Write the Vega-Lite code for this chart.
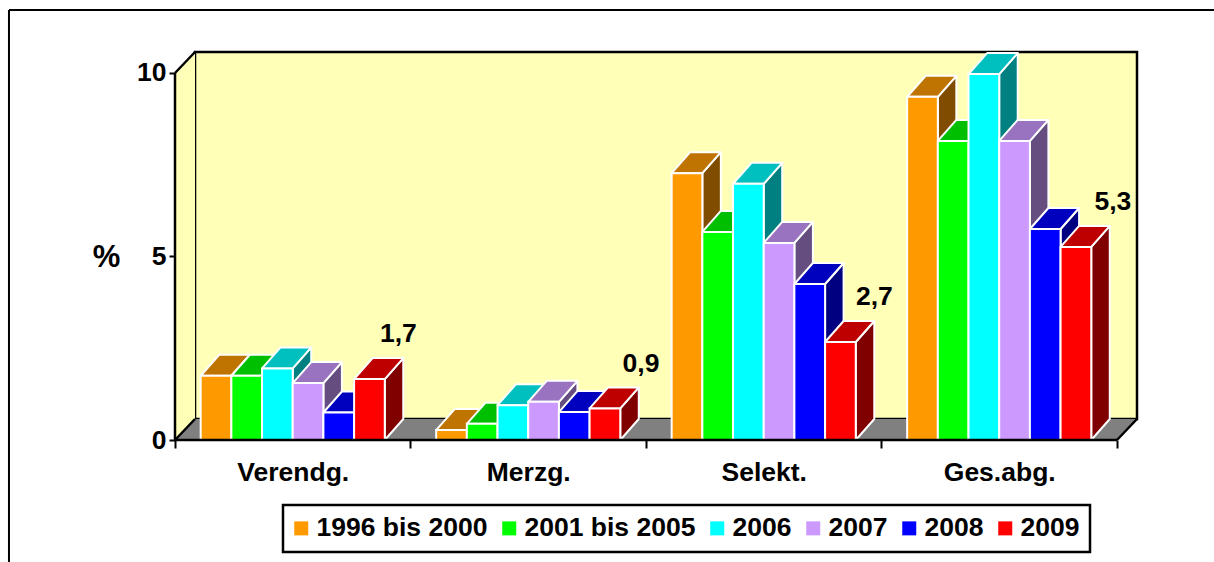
{"$schema":"https://vega.github.io/schema/vega-lite/v6.json","width":962,"height":388,"autosize":"none","padding":{"left":175,"top":52,"right":77,"bottom":122},"background":"white","config":{"view":{"stroke":null},"font":"Liberation Sans","legend":{"strokeWidth":2.5}},
"resolve":{"scale":{"fill":"independent"}},
"datasets":{"bars":[
{"category":"Verendg.","series":"1996 bis 2000","value":1.75},{"category":"Verendg.","series":"2001 bis 2005","value":1.75},{"category":"Verendg.","series":"2006","value":1.95},{"category":"Verendg.","series":"2007","value":1.55},{"category":"Verendg.","series":"2008","value":0.75},{"category":"Verendg.","series":"2009","value":1.66},
{"category":"Merzg.","series":"1996 bis 2000","value":0.27},{"category":"Merzg.","series":"2001 bis 2005","value":0.44},{"category":"Merzg.","series":"2006","value":0.95},{"category":"Merzg.","series":"2007","value":1.04},{"category":"Merzg.","series":"2008","value":0.76},{"category":"Merzg.","series":"2009","value":0.86},
{"category":"Selekt.","series":"1996 bis 2000","value":7.27},{"category":"Selekt.","series":"2001 bis 2005","value":5.67},{"category":"Selekt.","series":"2006","value":6.98},{"category":"Selekt.","series":"2007","value":5.37},{"category":"Selekt.","series":"2008","value":4.25},{"category":"Selekt.","series":"2009","value":2.67},
{"category":"Ges.abg.","series":"1996 bis 2000","value":9.35},{"category":"Ges.abg.","series":"2001 bis 2005","value":8.15},{"category":"Ges.abg.","series":"2006","value":9.97},{"category":"Ges.abg.","series":"2007","value":8.15},{"category":"Ges.abg.","series":"2008","value":5.75},{"category":"Ges.abg.","series":"2009","value":5.26}
],"one":[{"k":1}],"ends":[{"t":0},{"t":1}]},
"data":{"name":"bars"},
"transform":[
{"calculate":"indexof(['Verendg.','Merzg.','Selekt.','Ges.abg.'],datum.category)","as":"ci"},
{"calculate":"indexof(['1996 bis 2000','2001 bis 2005','2006','2007','2008','2009'],datum.series)","as":"si"},
{"calculate":"datum.ci+0.109+datum.si*0.1303","as":"l"},
{"calculate":"datum.l+0.1303","as":"r"},
{"calculate":"[0,1]","as":"tt"},
{"flatten":["tt"],"as":["t"]}
],
"layer":[
{"data":{"name":"one"},"transform":[],"mark":{"type":"rect","fill":"#FFFFB8","stroke":"black","strokeWidth":2.5},"encoding":{"x":{"datum":0.085,"type":"quantitative","scale":{"domain":[0,4.085]}},"x2":{"datum":4.085},"y":{"datum":0.572,"type":"quantitative","scale":{"domain":[0,10.572]}},"y2":{"datum":10.572}}},
{"data":{"name":"ends"},"transform":[{"calculate":"datum.t*0.085","as":"x"},{"calculate":"datum.t*0.572","as":"y0"},{"calculate":"10+datum.t*0.572","as":"y1"}],"mark":{"type":"area","orient":"vertical","fill":"#FFFFB8"},"encoding":{"x":{"field":"x","type":"quantitative","scale":{"domain":[0,4.085]}},"y":{"field":"y1","type":"quantitative","stack":null,"scale":{"domain":[0,10.572]}},"y2":{"field":"y0"}}},
{"data":{"name":"ends"},"transform":[{"calculate":"datum.t*0.085","as":"x0"},{"calculate":"4+datum.t*0.085","as":"x1"},{"calculate":"datum.t*0.572","as":"y"}],"mark":{"type":"area","orient":"horizontal","fill":"#808080"},"encoding":{"y":{"field":"y","type":"quantitative","scale":{"domain":[0,10.572]}},"x":{"field":"x1","type":"quantitative","stack":null,"scale":{"domain":[0,4.085]}},"x2":{"field":"x0"}}},
{"data":{"name":"one"},"transform":[],"mark":{"type":"rule","stroke":"black","strokeWidth":2.5},"encoding":{"x":{"datum":0,"type":"quantitative","scale":{"domain":[0,4.085]}},"y":{"datum":0,"type":"quantitative","scale":{"domain":[0,10.572]}},"x2":{"datum":0},"y2":{"datum":10}}},
{"data":{"name":"one"},"transform":[],"mark":{"type":"rule","stroke":"black","strokeWidth":2.5},"encoding":{"x":{"datum":0,"type":"quantitative","scale":{"domain":[0,4.085]}},"y":{"datum":10,"type":"quantitative","scale":{"domain":[0,10.572]}},"x2":{"datum":0.085},"y2":{"datum":10.572}}},
{"data":{"name":"one"},"transform":[],"mark":{"type":"rule","stroke":"black","strokeWidth":2.5},"encoding":{"x":{"datum":0,"type":"quantitative","scale":{"domain":[0,4.085]}},"y":{"datum":0,"type":"quantitative","scale":{"domain":[0,10.572]}},"x2":{"datum":0.085},"y2":{"datum":0.572}}},
{"data":{"name":"one"},"transform":[],"mark":{"type":"rule","stroke":"black","strokeWidth":2.5},"encoding":{"x":{"datum":4,"type":"quantitative","scale":{"domain":[0,4.085]}},"y":{"datum":0,"type":"quantitative","scale":{"domain":[0,10.572]}},"x2":{"datum":4.085},"y2":{"datum":0.572}}},
{"data":{"name":"one"},"transform":[],"mark":{"type":"rule","stroke":"black","strokeWidth":2},"encoding":{"x":{"datum":-0.705,"type":"quantitative","scale":{"domain":[0,4.085]}},"y":{"datum":11.717,"type":"quantitative","scale":{"domain":[0,10.572]}},"x2":{"datum":-0.705},"y2":{"datum":-3.6}}},
{"data":{"name":"one"},"transform":[],"mark":{"type":"rule","stroke":"black","strokeWidth":2},"encoding":{"x":{"datum":-0.705,"type":"quantitative","scale":{"domain":[0,4.085]}},"y":{"datum":11.717,"type":"quantitative","scale":{"domain":[0,10.572]}},"x2":{"datum":4.5},"y2":{"datum":11.717}}},
{"transform":[{"calculate":"datum.r+datum.t*0.0786","as":"xs"},{"calculate":"datum.t*0.572","as":"y0"},{"calculate":"datum.value+datum.t*0.572","as":"y1"}],"mark":{"type":"area","orient":"vertical","stroke":"white","strokeWidth":2,"strokeJoin":"round"},"encoding":{"x":{"field":"xs","type":"quantitative","scale":{"domain":[0,4.085]}},"y":{"field":"y1","type":"quantitative","stack":null,"scale":{"domain":[0,10.572]}},"y2":{"field":"y0"},"detail":{"field":"category"},"fill":{"field":"series","type":"nominal","legend":null,"scale":{"domain":["1996 bis 2000","2001 bis 2005","2006","2007","2008","2009"],"range":["#804D00","#008000","#008080","#664D80","#000080","#800000"]}}}},
{"transform":[{"calculate":"datum.l+datum.t*0.0786","as":"xa"},{"calculate":"datum.r+datum.t*0.0786","as":"xb"},{"calculate":"datum.value+datum.t*0.572","as":"yy"}],"mark":{"type":"area","orient":"horizontal","stroke":"white","strokeWidth":2,"strokeJoin":"round"},"encoding":{"y":{"field":"yy","type":"quantitative","scale":{"domain":[0,10.572]}},"x":{"field":"xb","type":"quantitative","stack":null,"scale":{"domain":[0,4.085]}},"x2":{"field":"xa"},"detail":{"field":"category"},"fill":{"field":"series","type":"nominal","legend":null,"scale":{"domain":["1996 bis 2000","2001 bis 2005","2006","2007","2008","2009"],"range":["#BF7300","#00BF00","#00BFBF","#9973BF","#0000BF","#BF0000"]}}}},
{"transform":[{"filter":"datum.t==0"}],"mark":{"type":"rect","stroke":"white","strokeWidth":2},"encoding":{"x":{"field":"l","type":"quantitative","scale":{"domain":[0,4.085]},"axis":{"values":[0,0.5,1,1.5,2,2.5,3,3.5,4],"title":null,"domain":false,"grid":false,"labelOverlap":false,"labelBound":false,"labelFlush":false,"labelExpr":"datum.value==0.5?'Verendg.':datum.value==1.5?'Merzg.':datum.value==2.5?'Selekt.':datum.value==3.5?'Ges.abg.':''","labelFont":"Liberation Sans","labelFontWeight":"bold","labelFontSize":26.5,"labelColor":"black","labelPadding":11,"labelBaseline":"top","tickColor":"black","tickWidth":2,"tickSize":8,"tickOpacity":{"condition":{"test":"datum.value%1!==0","value":0},"value":1}}},"x2":{"field":"r"},"y":{"field":"value","type":"quantitative","scale":{"domain":[0,10.572]},"axis":{"values":[0,5,10],"format":"d","grid":false,"domain":false,"tickColor":"black","tickWidth":2,"tickSize":6,"labelFont":"Liberation Sans","labelFontWeight":"bold","labelFontSize":26.5,"labelColor":"black","labelPadding":3,"title":"%","titleAngle":0,"titleFont":"Liberation Sans","titleFontWeight":"bold","titleFontSize":31,"titleColor":"black","titleX":-69,"titleY":205,"titleAlign":"center","titleBaseline":"middle"}},"y2":{"datum":0},"fill":{"field":"series","type":"nominal","scale":{"domain":["1996 bis 2000","2001 bis 2005","2006","2007","2008","2009"],"range":["#FF9900","#00FF00","#00FFFF","#CC99FF","#0000FF","#FF0000"]},"legend":{"title":null,"orient":"none","legendX":108,"legendY":453,"direction":"horizontal","columns":6,"symbolType":"square","symbolSize":196,"symbolStrokeWidth":0,"symbolOffset":-5,"labelFont":"Liberation Sans","labelFontWeight":"bold","labelFontSize":26.5,"labelColor":"black","labelOffset":2,"columnPadding":13,"padding":10,"strokeColor":"black","fillColor":"white","labelLimit":300}}}},
{"data":{"name":"one"},"transform":[],"mark":{"type":"rule","stroke":"black","strokeWidth":2.5},"encoding":{"x":{"datum":0,"type":"quantitative","scale":{"domain":[0,4.085]}},"y":{"datum":0,"type":"quantitative","scale":{"domain":[0,10.572]}},"x2":{"datum":4},"y2":{"datum":0}}},
{"transform":[{"filter":"datum.t==0 && datum.series=='2009'"},{"calculate":"datum.r+[0.058,0.088,0.079,0.092][datum.ci]","as":"tx"},{"calculate":"datum.value+1.22","as":"ty"},{"calculate":"replace(format(datum.value,'.1f'),'.',',')","as":"lab"}],"mark":{"type":"text","font":"Liberation Sans","fontWeight":"bold","fontSize":26.5,"align":"center","baseline":"middle","color":"black"},"encoding":{"x":{"field":"tx","type":"quantitative","scale":{"domain":[0,4.085]}},"y":{"field":"ty","type":"quantitative","scale":{"domain":[0,10.572]}},"text":{"field":"lab"}}}
]}
